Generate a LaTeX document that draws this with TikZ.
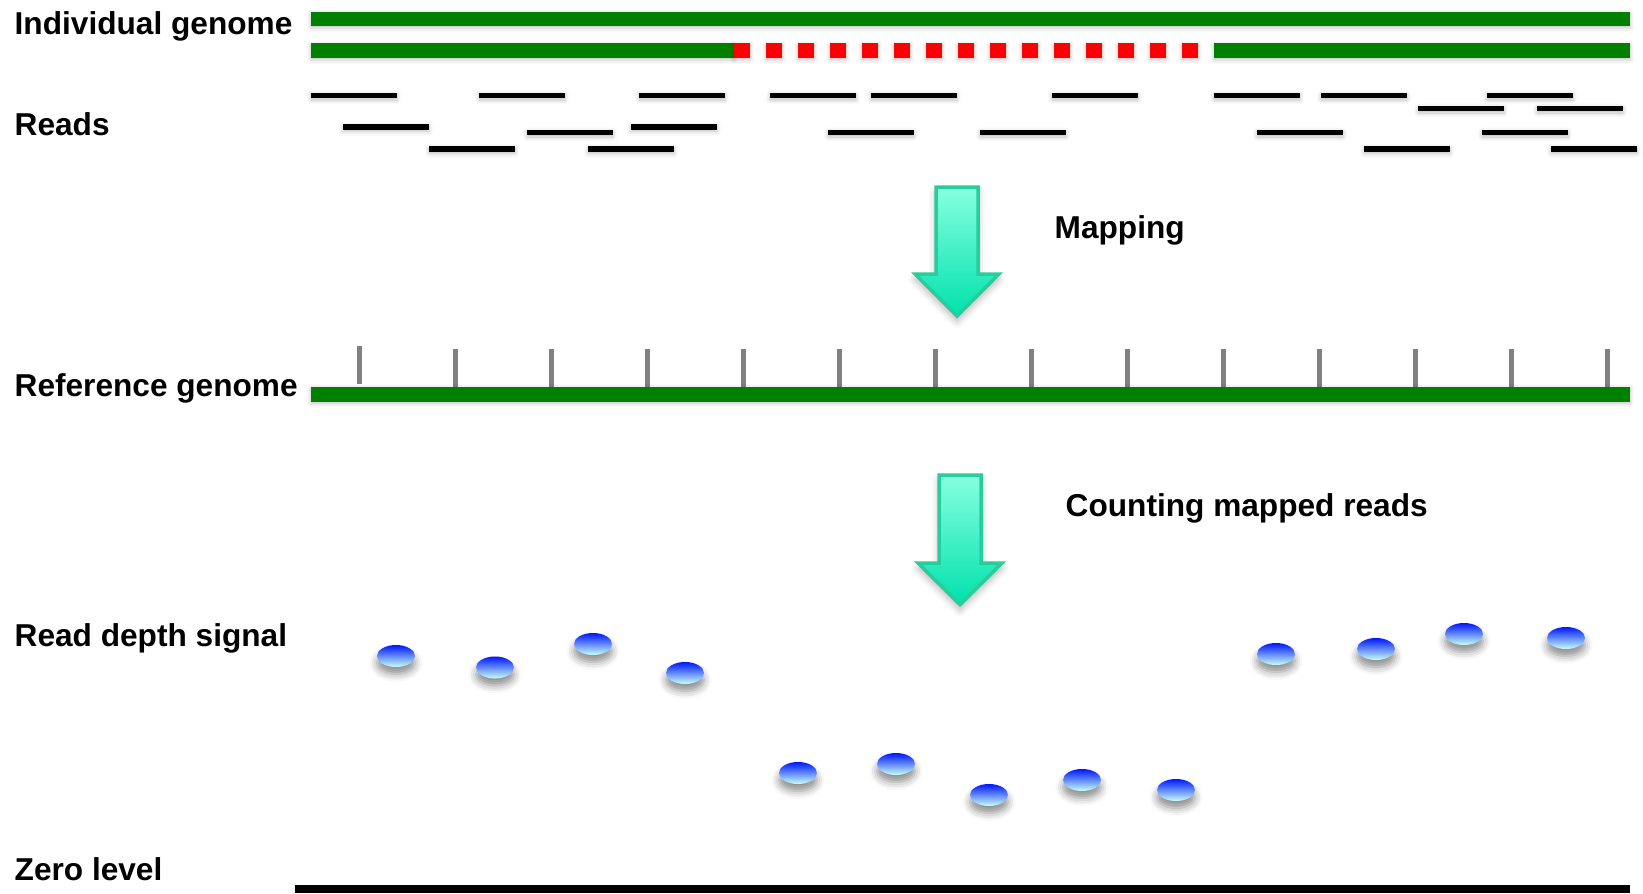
\documentclass[tikz,border=0pt]{standalone}
\usepackage{fontspec}
\setmainfont{Liberation Sans}
\usetikzlibrary{shapes.geometric, shadows.blur}

\definecolor{genome}{RGB}{0,128,0}
\definecolor{cnvred}{RGB}{255,0,0}
\definecolor{tick}{RGB}{128,128,128}
\definecolor{arrowtop}{RGB}{135,255,224}
\definecolor{arrowbot}{RGB}{0,226,172}
\definecolor{arrowedge}{RGB}{40,205,155}
\definecolor{dottop}{RGB}{0,24,255}
\definecolor{dotbot}{RGB}{200,255,245}

\begin{document}
\begin{tikzpicture}[
  x=0.1mm, y=-0.1mm,
  font=\fontsize{9}{11}\selectfont\bfseries,
  label/.style={anchor=base west, inner sep=0pt},
  soft/.style={blur shadow={shadow xshift=0pt, shadow yshift=-0.5pt, shadow blur radius=1.2pt, shadow opacity=25}},
  bar/.style={fill=genome, soft},
  dup/.style={fill=cnvred, soft},
  read/.style={fill=black, soft},
  marker/.style={draw=tick, line width=0.5mm},
  flowarrow/.style={top color=arrowtop, bottom color=arrowbot, draw=arrowedge, line width=0.35mm, line join=miter,
    blur shadow={shadow xshift=0pt, shadow yshift=-1.5pt, shadow blur radius=2pt, shadow opacity=30}},
  dot/.style={ellipse, inner sep=0pt, minimum width=3.8mm, minimum height=2.2mm, top color=dottop, bottom color=dotbot,
    blur shadow={shadow xshift=0pt, shadow yshift=-2pt, shadow blur radius=2.2pt, shadow opacity=45}}
]
  \useasboundingbox (0,0) rectangle (1643,893);

  % labels on the left
  \node[label] (indiv) at (14,34) {Individual genome};
  \node[label] (reads) at (14,135) {Reads};
  \node[label] (ref) at (14,396) {Reference genome};
  \node[label] (depth) at (14,646) {Read depth signal};
  \node[label] (zero) at (14,880) {Zero level};
  \node[label] (map) at (1054,238) {Mapping};
  \node[label] (count) at (1065,516) {Counting mapped reads};

  % the two copies of the individual genome, second one with a deletion
  \path[bar] (311,11.5) rectangle (1630,26);
  \path[bar] (311,43) rectangle (734,58);
  \foreach \k in {0,...,14}
    \path[dup] (734+32*\k,43) rectangle ++(16,15);
  \path[bar] (1214,43) rectangle (1630,58);

  % sequenced reads
  \foreach \x/\y in {311/95.5, 479/95.5, 639/95.5, 770/95.5, 871/95.5, 1052/95.5, 1214/95.5, 1321/95.5, 1487/95.5,
                     1418/108.5, 1537/108.5,
                     343/127, 631/127,
                     527/132.5, 828/132.5, 980/132.5, 1257/132.5, 1482/132.5,
                     429/149, 588/149, 1364/149, 1551/149}
    \path[read] (\x,\y-2.8) rectangle ++(86,5.6);

  % mapping step
  \shade[flowarrow] (936,187) -- (978,187) -- (978,274) -- (999,274) -- (957,316)
    -- (915,274) -- (936,274) -- cycle;

  % reference genome with position markers
  \draw[marker] (359,346) -- (359,384);
  \foreach \k in {1,...,13}
    \draw[marker] (359+96*\k,349) -- (359+96*\k,386.5);
  \path[bar] (311,386.5) rectangle (1630,401.5);

  % counting step
  \shade[flowarrow] (939,475) -- (981,475) -- (981,563) -- (1002,563) -- (960,604.5)
    -- (918,563) -- (939,563) -- cycle;

  % read depth values per window
  \foreach \x/\y [count=\i] in {396/656, 495/667.5, 593/644, 685/673, 798/773, 896/764, 989/795,
                                1082/780, 1176/790, 1276/654, 1376/649, 1464/634, 1566/638}
    \node[dot] (d\i) at (\x,\y) {};

  \fill[black] (295,885) rectangle (1630,893);
\end{tikzpicture}
\end{document}
